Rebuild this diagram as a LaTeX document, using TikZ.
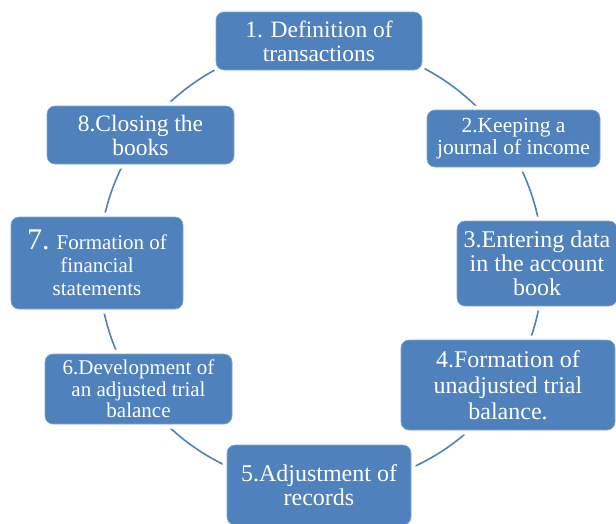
\documentclass[tikz,border=0pt]{standalone}
\usepackage{fontspec}
\setmainfont{Liberation Serif}
\definecolor{boxblue}{HTML}{4F81BD}
\begin{document}
\begin{tikzpicture}[x=1pt,y=-1pt,
  stepbox/.style={preaction={draw=white,line width=9pt},fill=boxblue,
    draw=boxblue!70!white,line width=0.6pt,rounded corners=8pt,
    text=white,align=center,inner sep=0pt},
  ring/.style={draw=boxblue,line width=1.6pt}]
\useasboundingbox (0,0) rectangle (616,523);
\begin{scope}
\clip (0,0) rectangle (616,523);
\draw[ring] (321,265) circle (222);
\node[stepbox,minimum width=206pt,minimum height=58pt,font=\fontsize{23.5}{24}\selectfont] (s1) at (319,41)
  {1. Definition of\\transactions};
\node[stepbox,minimum width=173pt,minimum height=57pt,font=\fontsize{21.5}{22}\selectfont] (s2) at (513.5,138.5)
  {2.Keeping a\\journal of income};
\node[stepbox,minimum width=160pt,minimum height=85pt,font=\fontsize{24}{24}\selectfont] (s3) at (537,263.5)
  {3.Entering data\\in the account\\book};
\node[stepbox,minimum width=214pt,minimum height=90pt,font=\fontsize{24}{26}\selectfont] (s4) at (508,385)
  {4.Formation of\\unadjusted trial\\balance.};
\node[stepbox,minimum width=184pt,minimum height=80pt,font=\fontsize{24}{24}\selectfont] (s5) at (319,485)
  {5.Adjustment of\\records};
\node[stepbox,minimum width=187pt,minimum height=70pt,font=\fontsize{21}{21.7}\selectfont] (s6) at (138.5,389)
  {6.Development of\\an adjusted trial\\balance};
\node[stepbox,minimum width=172pt,minimum height=92pt,font=\fontsize{21}{23}\selectfont] (s7) at (97,263)
  {{\fontsize{30}{23}\selectfont 7.} Formation of\\financial\\statements};
\node[stepbox,minimum width=187pt,minimum height=58pt,font=\fontsize{23.5}{24}\selectfont] (s8) at (140.5,135)
  {8.Closing the\\books};
\end{scope}
\end{tikzpicture}
\end{document}
